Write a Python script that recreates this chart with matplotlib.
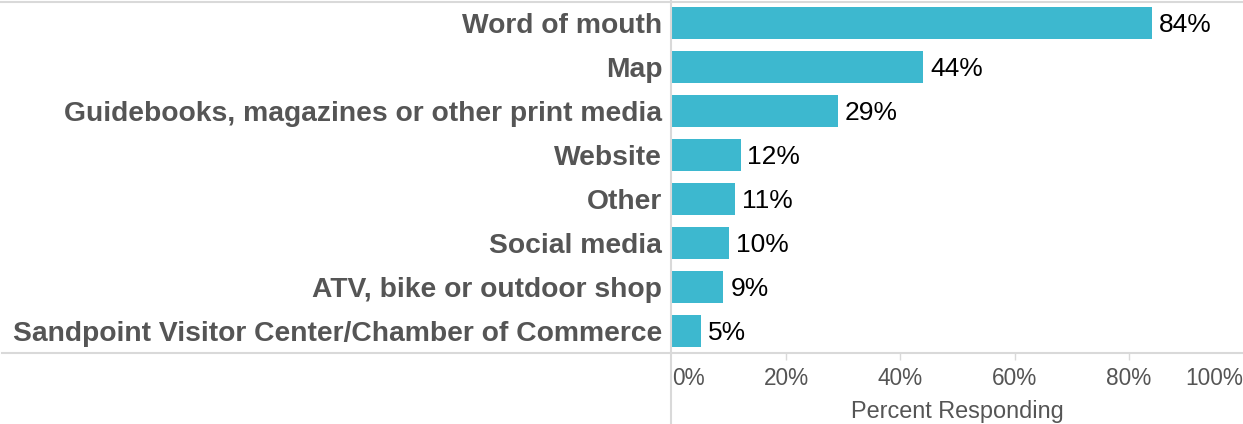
import matplotlib
matplotlib.use("Agg")
import matplotlib.pyplot as plt
from matplotlib.lines import Line2D

plt.rcParams['font.family'] = ['Liberation Sans', 'DejaVu Sans']

# survey answers, percent of respondents
sources = [
    "Word of mouth",
    "Map",
    "Guidebooks, magazines or other print media",
    "Website",
    "Other",
    "Social media",
    "ATV, bike or outdoor shop",
    "Sandpoint Visitor Center/Chamber of Commerce",
]
percents = [84, 44, 29, 12, 11, 10, 9, 5]
tick_values = [0, 20, 40, 60, 80, 100]
tick_labels = ["0%", "20%", "40%", "60%", "80%", "100%"]

bar_color = "#3db8cf"
grid_grey = "#d9d9d9"
label_grey = "#555555"

W, H = 1243, 424
fig = plt.figure(figsize=(W / 100, H / 100), dpi=100)
ax = fig.add_axes([672 / W, (H - 353) / H, (W - 672) / W, 352 / H])

ypos = list(range(len(sources)))
ax.barh(ypos, percents, height=0.73, color=bar_color)
ax.set_ylim(len(sources) - 0.5, -0.5)
ax.set_xlim(0, 100)

for y, v in zip(ypos, percents):
    ax.annotate(f"{v}%", (v, y), xytext=(5, 0), textcoords="offset points",
                va="center_baseline", ha="left", fontsize=19, color="black")

ax.set_yticks(ypos)
ax.set_yticklabels(sources, fontsize=20.3, fontweight="bold", color=label_grey)
ax.tick_params(axis="y", length=0, pad=7)

ax.set_xticks(tick_values)
ax.set_xticklabels(tick_labels, fontsize=16.3, color=label_grey)
ax.tick_params(axis="x", length=5, width=1, color=grid_grey, pad=5)
xt = ax.get_xticklabels()
xt[0].set_ha("left")
xt[-1].set_ha("right")
ax.xaxis.get_major_ticks()[0].tick1line.set_visible(False)
ax.xaxis.get_major_ticks()[-1].tick1line.set_visible(False)
ax.set_xlabel("Percent Responding", fontsize=16.9, color=label_grey, labelpad=7)

for s in ax.spines.values():
    s.set_visible(False)

# frame lines across the whole figure
fig.add_artist(Line2D([0, 1], [(H - 1.5) / H] * 2, color=grid_grey, lw=1.5))
fig.add_artist(Line2D([2 / W, 1], [(H - 352.5) / H] * 2, color=grid_grey, lw=1.5))
fig.add_artist(Line2D([671.5 / W] * 2, [0, 1], color=grid_grey, lw=1.5))

fig.savefig("out.png", dpi=100)
